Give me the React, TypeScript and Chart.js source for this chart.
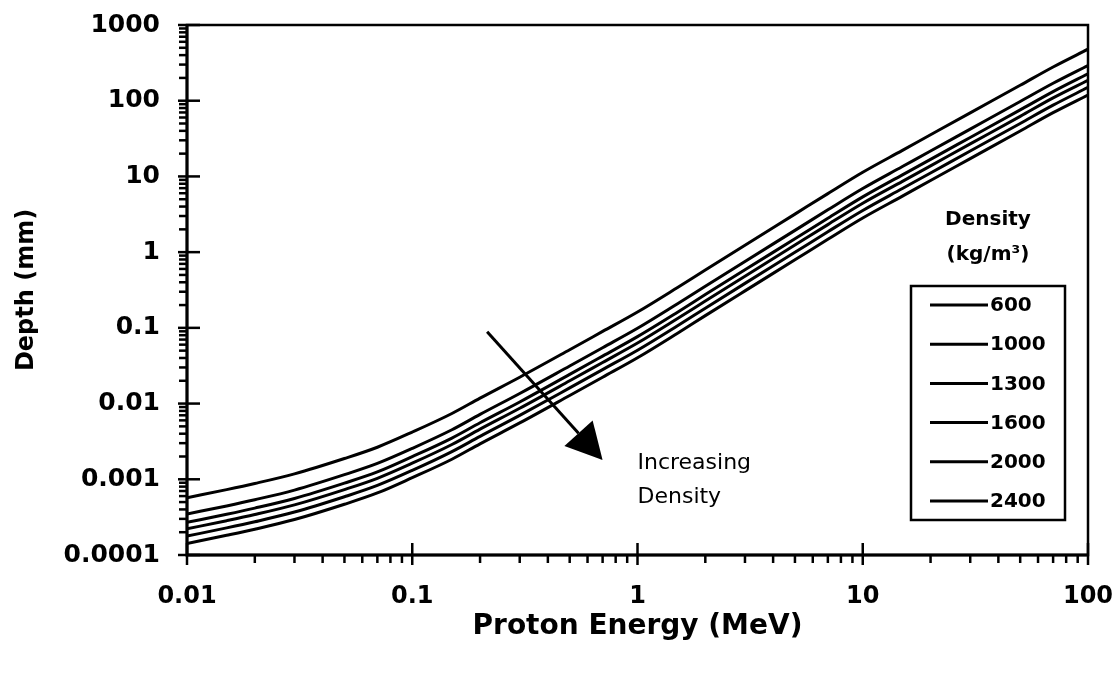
import React, { useEffect, useRef } from "react";
import { Chart, registerables } from "chart.js";

Chart.register(...registerables);

// ---------- data ----------
const energies = [0.01, 0.015, 0.02, 0.03, 0.05, 0.07, 0.1, 0.15, 0.2, 0.3, 0.5, 0.7, 1, 1.5, 2, 3, 5, 7, 10, 15, 20, 30, 50, 70, 100];

const densityLabels = ["600", "1000", "1300", "1600", "2000", "2400"];

const depth600 = [0.00057, 0.00073, 0.00088, 0.00118, 0.00188, 0.00265, 0.0042, 0.0074, 0.0118, 0.0223, 0.0514, 0.0897, 0.162, 0.339, 0.581, 1.236, 3.18, 5.93, 11.35, 22.1, 35.5, 69.2, 160, 279, 479];
const depth1000 = [0.000348, 0.000445, 0.000537, 0.00072, 0.00115, 0.00162, 0.00256, 0.00451, 0.0072, 0.0136, 0.0314, 0.0547, 0.0988, 0.207, 0.354, 0.754, 1.94, 3.62, 6.92, 13.5, 21.7, 42.2, 97.6, 170, 292];
const depth1300 = [0.00027, 0.000345, 0.000416, 0.000558, 0.000889, 0.00125, 0.00199, 0.0035, 0.00558, 0.0105, 0.0243, 0.0424, 0.0766, 0.16, 0.275, 0.585, 1.5, 2.8, 5.37, 10.5, 16.8, 32.7, 75.7, 132, 227];
const depth1600 = [0.000222, 0.000284, 0.000342, 0.000459, 0.000731, 0.00103, 0.00163, 0.00288, 0.00459, 0.00867, 0.02, 0.0349, 0.063, 0.132, 0.226, 0.481, 1.24, 2.31, 4.42, 8.6, 13.8, 26.9, 62.2, 109, 186];
const depth2000 = [0.000178, 0.000228, 0.000275, 0.000369, 0.000588, 0.000829, 0.00131, 0.00232, 0.00369, 0.00698, 0.0161, 0.0281, 0.0507, 0.106, 0.182, 0.387, 0.995, 1.86, 3.55, 6.92, 11.1, 21.7, 50.1, 87.3, 150];
const depth2400 = [0.000142, 0.000182, 0.000219, 0.000294, 0.000468, 0.00066, 0.00105, 0.00184, 0.00294, 0.00555, 0.0128, 0.0223, 0.0403, 0.0844, 0.145, 0.308, 0.792, 1.48, 2.83, 5.5, 8.84, 17.2, 39.8, 69.5, 119];

const seriesValues = [depth600, depth1000, depth1300, depth1600, depth2000, depth2400];

const xTickLabels = ["0.01", "0.1", "1", "10", "100"];
const yTickLabels = ["0.0001", "0.001", "0.01", "0.1", "1", "10", "100", "1000"];

const xTitle = "Proton Energy (MeV)";
const yTitle = "Depth (mm)";
const legendTitle = ["Density", "(kg/m\u00B3)"];
const annotationLines = ["Increasing", "Density"];
const annotationX = 1.0;
const annotationY = [0.00165, 0.00058];
const arrowStart = [0.215, 0.089];
const arrowEnd = [0.7, 0.0018];

const X_MIN = 0.01, X_MAX = 100, Y_MIN = 0.0001, Y_MAX = 1000;

// ---------- helpers ----------
const FONT = "'DejaVu Sans', 'Liberation Sans', Arial, sans-serif";

function isDecade(v: number) {
  const l = Math.log10(v);
  return Math.abs(l - Math.round(l)) < 1e-6;
}

function logTicks(min: number, max: number) {
  const out: { value: number }[] = [];
  const e0 = Math.round(Math.log10(min));
  const e1 = Math.round(Math.log10(max));
  for (let e = e0; e <= e1; e++) {
    for (let m = 1; m <= 9; m++) {
      const v = parseFloat((m * Math.pow(10, e)).toPrecision(6));
      if (v >= min * 0.999999 && v <= max * 1.000001) out.push({ value: v });
    }
  }
  return out;
}

const decorPlugin = {
  id: "decor",
  afterDatasetsDraw(chart: any) {
    const { ctx, chartArea: ca, scales } = chart;
    const xs = scales.x, ys = scales.y;
    ctx.save();
    ctx.strokeStyle = "#000";
    ctx.fillStyle = "#000";
    ctx.lineCap = "butt";

    // frame
    ctx.lineWidth = 2.5;
    ctx.strokeRect(ca.left, ca.top, ca.right - ca.left, ca.bottom - ca.top);
    ctx.lineWidth = 3;
    ctx.beginPath();
    ctx.moveTo(ca.left, ca.top);
    ctx.lineTo(ca.left, ca.bottom);
    ctx.lineTo(ca.right, ca.bottom);
    ctx.stroke();

    // tick marks
    ctx.lineWidth = 2.5;
    xs.ticks.forEach((t: any) => {
      const px = xs.getPixelForValue(t.value);
      ctx.beginPath();
      if (isDecade(t.value)) {
        ctx.moveTo(px, ca.bottom - 12);
        ctx.lineTo(px, ca.bottom + 10);
      } else {
        ctx.moveTo(px, ca.bottom);
        ctx.lineTo(px, ca.bottom + 8);
      }
      ctx.stroke();
    });
    ys.ticks.forEach((t: any) => {
      const py = ys.getPixelForValue(t.value);
      ctx.beginPath();
      if (isDecade(t.value)) {
        ctx.moveTo(ca.left - 9, py);
        ctx.lineTo(ca.left + 13, py);
      } else {
        ctx.moveTo(ca.left - 8, py);
        ctx.lineTo(ca.left, py);
      }
      ctx.stroke();
    });

    // arrow annotation
    const x0 = xs.getPixelForValue(arrowStart[0]);
    const y0 = ys.getPixelForValue(arrowStart[1]);
    const x1 = xs.getPixelForValue(arrowEnd[0]);
    const y1 = ys.getPixelForValue(arrowEnd[1]);
    const dx = x1 - x0, dy = y1 - y0;
    const len = Math.hypot(dx, dy);
    const ux = dx / len, uy = dy / len;
    const headLen = 36, headHalf = 19;
    const bx = x1 - ux * headLen, by = y1 - uy * headLen;
    ctx.lineWidth = 3;
    ctx.beginPath();
    ctx.moveTo(x0, y0);
    ctx.lineTo(bx, by);
    ctx.stroke();
    ctx.beginPath();
    ctx.moveTo(x1, y1);
    ctx.lineTo(bx - uy * headHalf, by + ux * headHalf);
    ctx.lineTo(bx + uy * headHalf, by - ux * headHalf);
    ctx.closePath();
    ctx.fill();

    // annotation text
    ctx.font = `22px ${FONT}`;
    ctx.textAlign = "left";
    ctx.textBaseline = "middle";
    annotationLines.forEach((s, i) => {
      ctx.fillText(s, xs.getPixelForValue(annotationX), ys.getPixelForValue(annotationY[i]));
    });

    // legend
    const boxLeft = ca.right - 177;
    const boxRight = ca.right - 23;
    const boxTop = ca.top + 261;
    const boxBottom = ca.bottom - 35;
    ctx.fillStyle = "#fff";
    ctx.fillRect(boxLeft, boxTop, boxRight - boxLeft, boxBottom - boxTop);
    ctx.fillStyle = "#000";
    ctx.lineWidth = 2.5;
    ctx.strokeRect(boxLeft, boxTop, boxRight - boxLeft, boxBottom - boxTop);
    const cx = (boxLeft + boxRight) / 2;
    ctx.textAlign = "center";
    ctx.font = `bold 20px ${FONT}`;
    ctx.fillText(legendTitle[0], cx, boxTop - 66);
    ctx.fillText(legendTitle[1], cx, boxTop - 31);
    ctx.textAlign = "left";
    const step = (boxBottom - boxTop - 38) / (chart.data.datasets.length - 1);
    chart.data.datasets.forEach((ds: any, i: number) => {
      const ry = boxTop + 19 + i * step;
      ctx.lineWidth = 3;
      ctx.beginPath();
      ctx.moveTo(boxLeft + 19, ry);
      ctx.lineTo(boxLeft + 77, ry);
      ctx.stroke();
      ctx.fillText(ds.label, boxLeft + 79, ry + 1);
    });

    ctx.restore();
  },
};

export default function App() {
  const canvasRef = useRef<HTMLCanvasElement | null>(null);

  useEffect(() => {
    const canvas = canvasRef.current;
    if (!canvas) return;
    const datasets = seriesValues.map((vals, i) => ({
      label: densityLabels[i],
      data: energies.map((e, j) => ({ x: e, y: vals[j] })),
      borderColor: "#000",
      backgroundColor: "#000",
      borderWidth: 3,
      pointRadius: 0,
      fill: false,
      cubicInterpolationMode: "monotone" as const,
    }));

    const chart = new Chart(canvas, {
      type: "line",
      data: { datasets },
      plugins: [decorPlugin],
      options: {
        animation: false,
        responsive: false,
        devicePixelRatio: 1,
        layout: { padding: { left: 0, right: 32, top: 25, bottom: 0 } },
        plugins: {
          legend: { display: false },
          tooltip: { enabled: false },
        },
        scales: {
          x: {
            type: "logarithmic",
            position: "bottom",
            min: X_MIN,
            max: X_MAX,
            grid: { display: false, drawTicks: false },
            border: { display: false },
            afterBuildTicks: (scale: any) => {
              scale.ticks = logTicks(X_MIN, X_MAX);
            },
            afterFit: (scale: any) => {
              scale.height = 120;
              scale.paddingLeft = 0;
              scale.paddingRight = 0;
            },
            ticks: {
              autoSkip: false,
              maxRotation: 0,
              minRotation: 0,
              padding: 27,
              color: "#000",
              font: { family: FONT, size: 24, weight: "bold" },
              callback: (value: any) => {
                const v = Number(value);
                if (!isDecade(v)) return "";
                return xTickLabels[Math.round(Math.log10(v)) + 2];
              },
            },
            title: {
              display: true,
              text: xTitle,
              color: "#000",
              font: { family: FONT, size: 28, weight: "bold" },
              padding: { top: 0, bottom: 31 },
            },
          },
          y: {
            type: "logarithmic",
            position: "left",
            min: Y_MIN,
            max: Y_MAX,
            grid: { display: false, drawTicks: false },
            border: { display: false },
            afterBuildTicks: (scale: any) => {
              scale.ticks = logTicks(Y_MIN, Y_MAX);
            },
            afterFit: (scale: any) => {
              scale.width = 187;
              scale.paddingTop = 0;
              scale.paddingBottom = 0;
            },
            ticks: {
              autoSkip: false,
              padding: 27,
              color: "#000",
              font: { family: FONT, size: 25, weight: "bold" },
              callback: (value: any) => {
                const v = Number(value);
                if (!isDecade(v)) return "";
                return yTickLabels[Math.round(Math.log10(v)) + 4];
              },
            },
            title: {
              display: true,
              text: yTitle,
              color: "#000",
              font: { family: FONT, size: 24, weight: "bold" },
              padding: { top: 12, bottom: 0 },
            },
          },
        },
      },
    });

    return () => {
      chart.destroy();
    };
  }, []);

  return (
    <div style={{ position: "absolute", left: 0, top: 0, width: 1120, height: 675, background: "#fff" }}>
      <canvas ref={canvasRef} width={1120} height={675} style={{ display: "block" }} />
    </div>
  );
}
